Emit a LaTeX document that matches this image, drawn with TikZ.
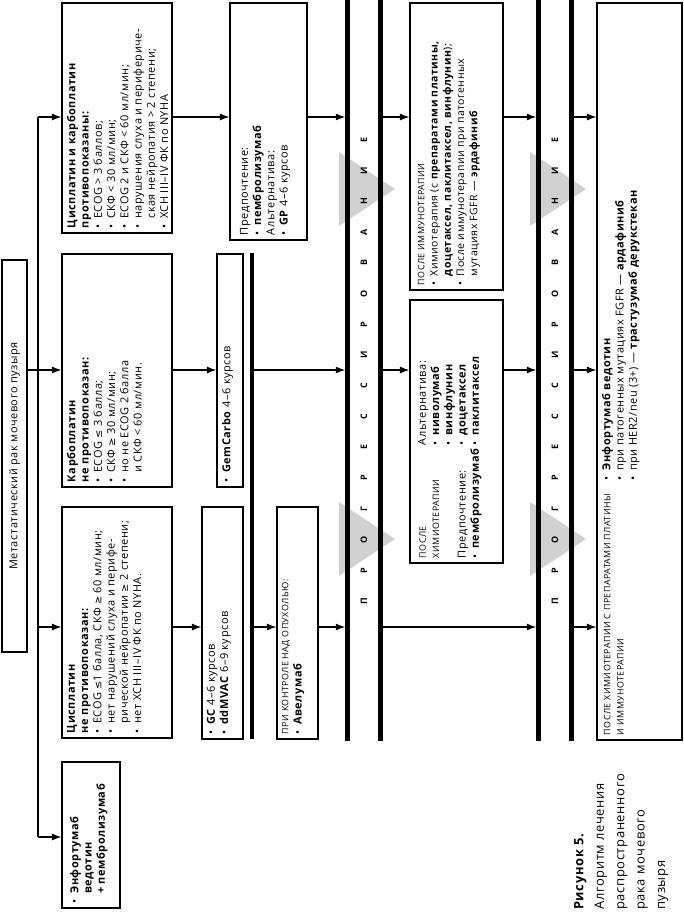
\documentclass[tikz,border=0pt]{standalone}
\usepackage{fontspec}
\setmainfont{Open Sans}[LetterSpace=5]
\newfontfamily\symf[Scale=0.9]{DejaVu Sans}
\usetikzlibrary{arrows.meta}
\newcommand\bu{\makebox[0.85em][l]{•}}
\newcommand\ind{\hspace*{0.85em}}
\newcommand\leqs{{\symf ≤}}
\newcommand\geqs{{\symf ≥}}
\newcommand\up[1]{{\fontsize{8.9}{13.3}\selectfont #1}}
\newcommand\bxt[3]{\parbox[c][#2][t]{#1}{\raggedright #3}}
\newcommand\lt[1]{\makebox[30.73bp]{#1}}
\newcommand\prog{\lt{П}\lt{Р}\lt{О}\lt{Г}\lt{Р}\lt{Е}\lt{С}\lt{С}\lt{И}\lt{Р}\lt{О}\lt{В}\lt{А}\lt{Н}\lt{И}\lt{Е}}
\tikzset{
  bx/.style={draw, line width=1.1bp, rotate=90, inner sep=5bp, font=\fontsize{11}{13.3}\selectfont},
  arr/.style={line width=1.2bp, -{Latex[length=9.5bp,width=7bp]}},
  arrb/.style={arr, shorten >=2.5bp},
  ln/.style={line width=1.2bp},
  barline/.style={line width=5bp},
  tri/.style={fill=black!18, draw=none},
  progn/.style={rotate=90, minimum width=741bp, minimum height=32bp, inner sep=0pt, font=\bfseries\fontsize{9}{10}\selectfont}
}
\begin{document}
\begin{tikzpicture}[x=1bp, y=-1bp]
\useasboundingbox (0,0) rectangle (684,914);
\coordinate (r1) at (0,117);
\coordinate (r2) at (0,370);
\coordinate (r3) at (0,627);
\coordinate (r4) at (0,837);
\coordinate (bus) at (38,0);
\coordinate (cl) at (252,0);

% gray triangles
\fill[tri] (339,152) -- (395,189) -- (339,226) -- cycle;
\fill[tri] (339,502) -- (395,539) -- (339,576) -- cycle;
\fill[tri] (530,152) -- (586,189) -- (530,226) -- cycle;
\fill[tri] (530,502) -- (586,539) -- (530,576) -- cycle;

% title
\node[draw, line width=1.1bp, rotate=90, minimum width=392bp, minimum height=25bp, inner sep=0pt, font=\fontsize{11}{12}\selectfont] (T) at (14.5,456) {Метастатический рак мочевого пузыря};

% column 1
\node[bx] (A) at (117,118) {\bxt{220bp}{100bp}{%
\textbf{Цисплатин и карбоплатин}\\
\textbf{противопоказаны:}\\
\bu ECOG > 3 баллов;\\
\bu СКФ < 30 мл/мин;\\
\bu ECOG 2 и СКФ < 60 мл/мин;\\
\bu нарушения слуха и перифериче-\\
\ind ская нейропатия > 2 степени;\\
\bu ХСН III–IV ФК по NYHA}};

\node[bx] (B) at (117,370.5) {\bxt{223bp}{100bp}{%
\textbf{Карбоплатин}\\
\textbf{не противопоказан:}\\
\bu ECOG \leqs{} 3 балла;\\
\bu СКФ \geqs{} 30 мл/мин;\\
\bu но не ECOG 2 балла\\
\ind и СКФ < 60 мл/мин.}};

\node[bx] (C) at (117,622.5) {\bxt{221bp}{100bp}{%
\textbf{Цисплатин}\\
\textbf{не противопоказан:}\\
\bu ECOG \leqs1 балла, СКФ \geqs{} 60 мл/мин;\\
\bu нет нарушений слуха и перифе-\\
\ind рической нейропатии \geqs{} 2 степени;\\
\bu нет ХСН III–IV ФК по NYHA.}};

\node[bx] (D) at (91,835) {\bxt{136bp}{48bp}{\vspace*{3bp}%
\bu\textbf{Энфортумаб}\\
\ind\textbf{ведотин}\\
\ind\textbf{+ пембролизумаб}}};

% column 2
\node[bx] (H) at (268.5,121.5) {\bxt{227bp}{67bp}{\vspace*{5bp}%
Предпочтение:\\
\bu\textbf{пембролизумаб}\\
Альтернатива:\\
\bu\textbf{GP} 4–6 курсов}};

\node[bx] (F) at (230,370.5) {\bxt{223bp}{16bp}{%
\bu\textbf{GemCarbo} 4–6 курсов}};

\node[bx] (E) at (222.5,623) {\bxt{222bp}{31bp}{%
\bu\textbf{GC} 4–6 курсов\\
\bu\textbf{ddMVAC} 6–9 курсов}};

\node[bx] (G) at (297.5,623) {\bxt{222bp}{31bp}{%
\up{ПРИ КОНТРОЛЕ НАД ОПУХОЛЬЮ:}\\
\bu\textbf{Авелумаб}}};

% progression bars
\node[progn] (P1) at (364,370.5) {\prog};
\node[progn] (P2) at (555,370.5) {\prog};

% column 4
\node[bx, font=\fontsize{10.5}{13.3}\selectfont] (J) at (456.5,146.5) {\bxt{277bp}{83bp}{\vspace*{3bp}%
\up{ПОСЛЕ ИММУНОТЕРАПИИ}\\
\bu Химиотерапия (с \textbf{препаратами платины,}\\
\ind\textbf{доцетаксел, паклитаксел, винфлунин});\\
\bu После иммунотерапии при патогенных\\
\ind мутациях FGFR — \textbf{эрдафиниб}}};

\node[bx] (K) at (456.5,431.5) {\bxt{253bp}{83bp}{\vspace*{3bp}%
\parbox[t]{113bp}{\up{ПОСЛЕ}\\\up{ХИМИОТЕРАПИИ}\\[13.3bp]Предпочтение:\\\bu\textbf{пембролизумаб}}%
\parbox[t]{135bp}{Альтернатива:\\\bu\textbf{ниволумаб}\\\bu\textbf{винфлунин}\\\bu\textbf{доцетаксел}\\\bu\textbf{паклитаксел}}}};

\node[bx] (L) at (639.5,371.5) {\bxt{727bp}{75bp}{%
\parbox[t]{255bp}{\up{\mbox{ПОСЛЕ ХИМИОТЕРАПИИ С ПРЕПАРАТАМИ ПЛАТИНЫ}}\\\up{И ИММУНОТЕРАПИИ}}%
\parbox[t]{465bp}{\bu\textbf{Энфортумаб ведотин}\\
\bu при патогенных мутациях FGFR — \textbf{ардафиниб}\\
\bu при HER2/neu (3+) — \textbf{трастузумаб дерукстекан}}}};

% caption
\node[rotate=90, anchor=north west, align=left, inner sep=0pt, font=\fontsize{13}{20.5}\selectfont] (cap) at (574,910) {\textbf{Рисунок 5.}\\Алгоритм лечения\\распространенного\\рака мочевого\\пузыря};

% bus
\draw[ln] (bus |- r1) -- (bus |- r4);
\draw[arr] (bus |- r1) -- (A.north |- r1);
\draw[arr] (T.south |- r2) -- (B.north |- r2);
\draw[arr] (bus |- r3) -- (C.north |- r3);
\draw[arr] (bus |- r4) -- (D.north |- r4);

% row 1
\draw[arr] (A.south |- r1) -- (H.north |- r1);
\draw[arrb] (H.south |- r1) -- (P1.north |- r1);
\draw[arr] (P1.south |- r1) -- (J.north |- r1);
\draw[arrb] (J.south |- r1) -- (P2.north |- r1);
\draw[arr] (P2.south |- r1) -- (L.north |- r1);

% row 2
\draw[arr] (B.south |- r2) -- (F.north |- r2);
\draw[arrb] (cl |- r2) -- (P1.north |- r2);
\draw[arr] (P1.south |- r2) -- (K.north |- r2);
\draw[arrb] (K.south |- r2) -- (P2.north |- r2);
\draw[arr] (P2.south |- r2) -- (L.north |- r2);

% row 3
\draw[arr] (C.south |- r3) -- (E.north |- r3);
\draw[arr] (cl |- r3) -- (G.north |- r3);
\draw[arrb] (G.south |- r3) -- (P1.north |- r3);
\draw[arrb] (P1.south |- r3) -- (P2.north |- r3);
\draw[arr] (P2.south |- r3) -- (L.north |- r3);

% thick lines
\draw[line width=4bp] (cl |- B.east) -- (cl |- C.west);
\draw[barline] (P1.north west) -- (P1.north east);
\draw[barline] (P1.south west) -- (P1.south east);
\draw[barline] (P2.north west) -- (P2.north east);
\draw[barline] (P2.south west) -- (P2.south east);
\end{tikzpicture}
\end{document}
